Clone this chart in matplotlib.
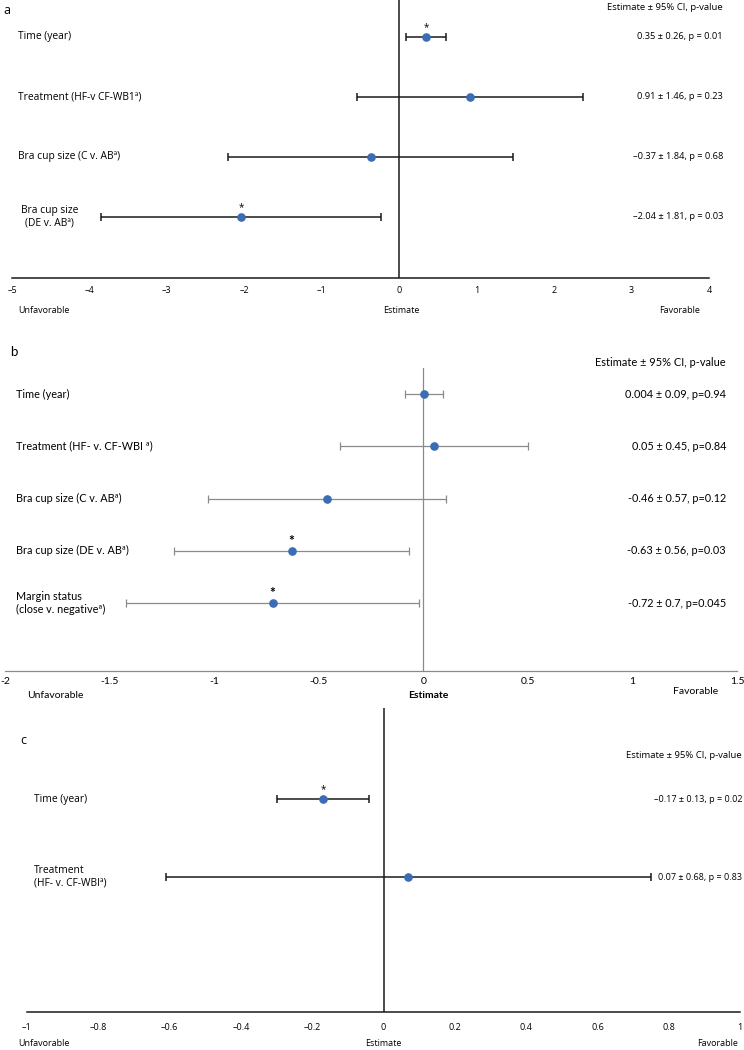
import matplotlib
matplotlib.use('Agg')
import matplotlib.pyplot as plt
from matplotlib.transforms import blended_transform_factory

# panel a
a_labels = ['Time (year)', 'Treatment (HF-v CF-WB1ª)', 'Bra cup size (C v. ABª)', 'Bra cup size\n(DE v. ABª)']
a_est = [0.35, 0.91, -0.37, -2.04]
a_ci = [0.26, 1.46, 1.84, 1.81]
a_text = ['0.35 ± 0.26, p = 0.01', '0.91 ± 1.46, p = 0.23', '–0.37 ± 1.84, p = 0.68', '–2.04 ± 1.81, p = 0.03']
a_star = [True, False, False, True]
a_ticks = [-5, -4, -3, -2, -1, 0, 1, 2, 3, 4]
a_ticklabels = ['–5', '–4', '–3', '–2', '–1', '0', '1', '2', '3', '4']

# panel b
b_labels = ['Time (year)', 'Treatment (HF- v. CF-WBI ª)', 'Bra cup size (C v. ABª)', 'Bra cup size (DE v. ABª)',
            'Margin status\n(close v. negativeª)']
b_est = [0.004, 0.05, -0.46, -0.63, -0.72]
b_ci = [0.09, 0.45, 0.57, 0.56, 0.7]
b_text = ['0.004 ± 0.09, p=0.94', '0.05 ± 0.45, p=0.84', '-0.46 ± 0.57, p=0.12', '-0.63 ± 0.56, p=0.03',
          '-0.72 ± 0.7, p=0.045']
b_star = [False, False, False, True, True]
b_ticks = [-2, -1.5, -1, -0.5, 0, 0.5, 1, 1.5]
b_ticklabels = ['-2', '-1.5', '-1', '-0.5', '0', '0.5', '1', '1.5']

# panel c
c_labels = ['Time (year)', 'Treatment\n(HF- v. CF-WBIª)']
c_est = [-0.17, 0.07]
c_ci = [0.13, 0.68]
c_text = ['–0.17 ± 0.13, p = 0.02', '0.07 ± 0.68, p = 0.83']
c_star = [True, False]
c_ticks = [-1, -0.8, -0.6, -0.4, -0.2, 0, 0.2, 0.4, 0.6, 0.8, 1]
c_ticklabels = ['–1', '–0.8', '–0.6', '–0.4', '–0.2', '0', '0.2', '0.4', '0.6', '0.8', '1']

W, H = 744, 1050
fig = plt.figure(figsize=(W / 100, H / 100), dpi=100)


def fx(x):
    return x / W


def fy(y):
    return 1 - y / H


def panel(box, ylim, xlim, est, ci, stars, labels, texts, ticks, ticklabels, style):
    left, top, right, bottom = box
    ax = fig.add_axes([fx(left), fy(bottom), fx(right) - fx(left), (bottom - top) / H])
    rows = list(range(len(est)))
    ax.errorbar(est, rows, xerr=ci, fmt='o', color=style['line'], ecolor=style['line'],
                elinewidth=style['lw'], capsize=3, capthick=style['lw'],
                markerfacecolor='#3a6db3', markeredgecolor='#3a6db3', markersize=5.2, zorder=3)
    ax.axvline(0, color=style['line'], lw=style['lw'], zorder=1)
    for i, s in enumerate(stars):
        if s:
            ax.annotate('*', (est[i], i), xytext=(0, 3), textcoords='offset points', ha='center', va='bottom',
                        fontsize=style['star'], fontweight=style['starw'], family=style['font'])
    ax.set_xlim(xlim)
    ax.set_ylim(ylim)
    ax.set_yticks([])
    ax.set_xticks(ticks)
    ax.set_xticklabels(ticklabels, family=style['font'], fontsize=style['tick'])
    ax.tick_params(axis='x', length=0, pad=style['pad'])
    for sp in ['top', 'left', 'right']:
        ax.spines[sp].set_visible(False)
    ax.spines['bottom'].set_color(style['line'])
    ax.spines['bottom'].set_linewidth(style['lw'])
    ax.patch.set_alpha(0)
    tr = blended_transform_factory(fig.transFigure, ax.transData)
    for i, lab in enumerate(labels):
        ax.text(fx(style['labx'][i]), i, lab, transform=tr, ha='left', va='center',
                multialignment=style['multi'], family=style['font'], fontsize=style['fs'])
        ax.text(fx(style['valx']), i, texts[i], transform=tr, ha='right', va='center',
                family=style['font'], fontsize=style['vfs'])
    return ax


style_a = dict(line='#1a1a1a', lw=1.1, star=7, starw='normal', font='Open Sans', tick=6.5, pad=6,
               labx=[18, 18, 18, 21], multi='center', valx=723, fs=7.4, vfs=6.7)
panel((12, 0, 709, 278), (4.02, -0.617), (-5, 4), a_est, a_ci, a_star, a_labels, a_text,
      a_ticks, a_ticklabels, style_a)

style_b = dict(line='#8a8a8a', lw=0.9, star=10, starw='bold', font='Lato', tick=7.5, pad=4,
               labx=[16, 16, 16, 16, 16], multi='left', valx=726, fs=7.8, vfs=7.8)
panel((5, 368, 737, 671), (5.30, -0.498), (-2, 1.5), b_est, b_ci, b_star, b_labels, b_text,
      b_ticks, b_ticklabels, style_b)

style_c = dict(line='#1a1a1a', lw=1.1, star=7, starw='normal', font='Open Sans', tick=6.5, pad=8,
               labx=[34, 34], multi='left', valx=742, fs=7.4, vfs=6.5)
panel((27, 708, 740, 1012), (2.731, -1.167), (-1, 1), c_est, c_ci, c_star, c_labels, c_text,
      c_ticks, c_ticklabels, style_c)

# headers, panel letters and axis captions
fig.text(fx(723), fy(8), 'Estimate ± 95% CI, p-value', ha='right', va='center', family='Open Sans', fontsize=6.8)
fig.text(fx(726), fy(362), 'Estimate ± 95% CI, p-value', ha='right', va='center', family='Lato', fontsize=7.9)
fig.text(fx(742), fy(755), 'Estimate ± 95% CI, p-value', ha='right', va='center', family='Open Sans', fontsize=6.8)

fig.text(fx(3), fy(10), 'a', ha='left', va='center', family='Open Sans', fontsize=9)
fig.text(fx(10), fy(352), 'b', ha='left', va='center', family='Lato', fontsize=9.5)
fig.text(fx(20), fy(740), 'c', ha='left', va='center', family='Open Sans', fontsize=9)

fig.text(fx(18), fy(310), 'Unfavorable', ha='left', va='center', family='Open Sans', fontsize=6.5)
fig.text(fx(401), fy(310), 'Estimate', ha='center', va='center', family='Open Sans', fontsize=6.5)
fig.text(fx(700), fy(310), 'Favorable', ha='right', va='center', family='Open Sans', fontsize=6.5)

fig.text(fx(27), fy(695), 'Unfavorable', ha='left', va='center', family='Lato', fontsize=7.5)
fig.text(fx(428), fy(695), 'Estimate', ha='center', va='center', family='Lato', fontsize=7.5, fontweight='bold')
fig.text(fx(718), fy(691), 'Favorable', ha='right', va='center', family='Lato', fontsize=7.5)

fig.text(fx(18), fy(1043), 'Unfavorable', ha='left', va='center', family='Open Sans', fontsize=6.5)
fig.text(fx(383), fy(1043), 'Estimate', ha='center', va='center', family='Open Sans', fontsize=6.5)
fig.text(fx(738), fy(1043), 'Favorable', ha='right', va='center', family='Open Sans', fontsize=6.5)

fig.savefig('out.png', dpi=100)
